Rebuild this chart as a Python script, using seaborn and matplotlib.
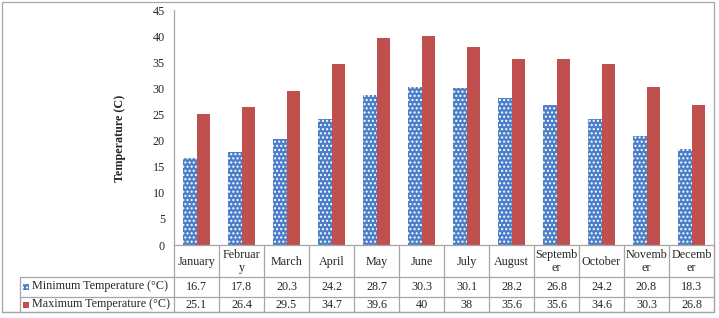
import matplotlib
matplotlib.use("Agg")
import matplotlib.pyplot as plt
import seaborn as sns
import pandas as pd
from matplotlib.transforms import Affine2D, blended_transform_factory
from matplotlib.lines import Line2D
from matplotlib.patches import Rectangle

months = ["January", "February", "March", "April", "May", "June", "July",
          "August", "September", "October", "November", "December"]
month_labels = ["January", "Februar\ny", "March", "April", "May", "June", "July",
                "August", "Septemb\ner", "October", "Novemb\ner", "Decemb\ner"]
min_temp = [16.7, 17.8, 20.3, 24.2, 28.7, 30.3, 30.1, 28.2, 26.8, 24.2, 20.8, 18.3]
max_temp = [25.1, 26.4, 29.5, 34.7, 39.6, 40, 38, 35.6, 35.6, 34.6, 30.3, 26.8]
series_names = ["Minimum Temperature (°C)", "Maximum Temperature (°C)"]
y_ticks = [0, 5, 10, 15, 20, 25, 30, 35, 40, 45]

BLUE = "#4A7EC8"
RED = "#C0504D"
GRID = "#A6A6A6"
FS = 8.7

sns.set_theme(style="white")
plt.rcParams["font.family"] = ["Liberation Serif", "DejaVu Serif"]
plt.rcParams["hatch.linewidth"] = 1.0

W, H = 719, 318
fig = plt.figure(figsize=(W / 100, H / 100), dpi=100)
px = Affine2D().scale(1 / W, -1 / H).translate(0, 1) + fig.transFigure

ax_l, ax_r, ax_t, ax_b = 174, 714, 10, 245
ax = fig.add_axes([ax_l / W, 1 - ax_b / H, (ax_r - ax_l) / W, (ax_b - ax_t) / H])

df = pd.DataFrame({
    "month": months * 2,
    "temp": min_temp + max_temp,
    "series": [series_names[0]] * 12 + [series_names[1]] * 12,
})
sns.barplot(data=df, x="month", y="temp", hue="series", order=months,
            hue_order=series_names, palette=[BLUE, RED], width=0.58,
            saturation=1, ax=ax, legend=False)

for bar in ax.containers[0]:
    bar.set_facecolor(BLUE)
    bar.set_edgecolor("white")
    bar.set_linewidth(0)
    bar.set_hatch("....")
for bar in ax.containers[1]:
    bar.set_linewidth(0)

ax.set_xlim(-0.5, 11.5)
ax.set_ylim(0, 45)
ax.set_yticks(y_ticks)
ax.set_yticklabels([str(t) for t in y_ticks], fontsize=FS)
ax.set_xticks(range(12))
ax.set_xticklabels(month_labels, fontsize=FS, va="center", linespacing=1.05)
ax.tick_params(axis="y", length=0, pad=6.5)
ax.tick_params(axis="x", length=0, pad=12)
ax.set_xlabel("")
ax.set_ylabel("")
for s in ["top", "right"]:
    ax.spines[s].set_visible(False)
for s in ["left", "bottom"]:
    ax.spines[s].set_color(GRID)
    ax.spines[s].set_linewidth(0.9)

fig.text(120, 138, "Temperature (C)", transform=px, rotation=90,
         fontsize=FS, fontweight="bold", ha="center", va="center")

# table grid
def hline(y, x0, x1):
    fig.add_artist(Line2D([x0, x1], [y, y], transform=px, color=GRID, lw=0.9))

def vline(x, y0, y1):
    fig.add_artist(Line2D([x, x], [y0, y1], transform=px, color=GRID, lw=0.9))

hline(277, 20, ax_r)
hline(296.5, 20, ax_r)
hline(312, 2, ax_r)
colw = (ax_r - ax_l) / 12
for k in range(13):
    vline(ax_l + colw * k, ax_b, 312)
vline(20, 277, 312)
# outer border
fig.add_artist(Rectangle((2, 2), ax_r - 2, 310, transform=px, fill=False,
                         edgecolor=GRID, lw=0.9))

bt = blended_transform_factory(ax.transData, px)
rows = [min_temp, max_temp]
row_centers = [286.5, 304.5]
for vals, yc in zip(rows, row_centers):
    for i, v in enumerate(vals):
        ax.text(i, yc, f"{v:g}", transform=bt, ha="center", va="center",
                fontsize=FS, clip_on=False)

# legend keys and labels
for name, yc, color, hatch in zip(series_names, row_centers, [BLUE, RED], ["....", None]):
    r = Rectangle((23, yc - 3), 6, 6, transform=px, facecolor=color,
                  edgecolor="white" if hatch else color, lw=0, hatch=hatch)
    fig.add_artist(r)
    fig.text(32, yc, name, transform=px, fontsize=FS, ha="left", va="center")

fig.savefig("out.png", dpi=100)
